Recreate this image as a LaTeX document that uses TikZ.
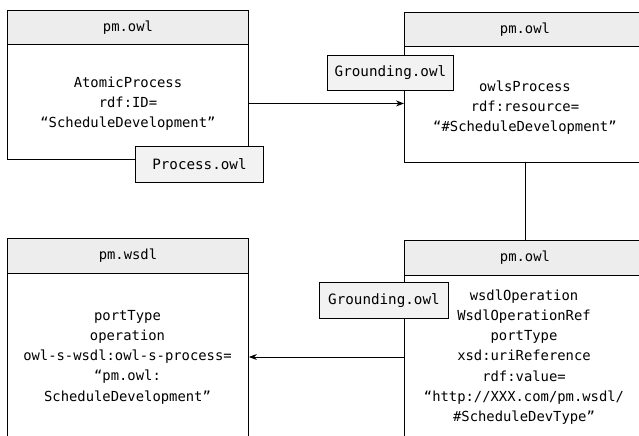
\documentclass[tikz,border=0pt]{standalone}
\usepackage{fontspec}
\setmainfont{DejaVu Sans Mono}
\usetikzlibrary{arrows.meta,calc}
\begin{document}
\begin{tikzpicture}[x=1bp,y=-1bp,
  every node/.style={font=\fontsize{13.9}{20.3}\selectfont},
  hdr/.style={draw=black,line width=0.9pt,fill=gray!14,minimum width=241bp,minimum height=34bp,inner sep=0pt,anchor=north west},
  body/.style={draw=black,line width=0.9pt,fill=white,inner sep=0pt,anchor=north west,minimum width=241bp},
  txt/.style={align=center,inner sep=0pt},
  tag/.style={draw=black,line width=0.9pt,fill=gray!10,inner sep=0pt,minimum height=36bp,anchor=north west,font=\fontsize{14.3}{18}\selectfont},
  conn/.style={line width=0.9pt},
  arr/.style={conn,-{Stealth[length=8bp,width=6bp]}}]
\useasboundingbox (0,0) rectangle (639,436);
% box 1
\node[body,minimum height=115bp] (b1) at (7,44) {};
\node[hdr] (h1) at (7,10) {pm.owl};
\node[txt] (t1) at ($(b1.center)+(0,2)$) {AtomicProcess\\rdf:ID=\\“ScheduleDevelopment”};
% box 2
\node[body,minimum height=116bp] (b2) at (404,46) {};
\node[hdr] (h2) at (404,12) {pm.owl};
\node[txt] (t2) at ($(b2.center)+(0,3)$) {owlsProcess\\rdf:resource=\\“\#ScheduleDevelopment”};
% box 3
\node[body,minimum height=180bp] (b3) at (7,273) {};
\node[hdr,minimum height=35bp] (h3) at (7,238) {pm.wsdl};
\node[txt] (t3) at (127.5,357) {portType\\operation\\owl-s-wsdl:owl-s-process=\\“pm.owl:\\ScheduleDevelopment”};
% box 4
\node[body,minimum height=180bp] (b4) at (404,275) {};
\node[hdr,minimum height=35bp] (h4) at (404,240) {pm.owl};
\node[txt] (t4) at (524,357) {wsdlOperation\\WsdlOperationRef\\portType\\xsd:uriReference\\rdf:value=\\“http://XXX.com/pm.wsdl/\\\#ScheduleDevType”};
% tags
\node[tag,minimum width=128bp] (g1) at (135,146) {Process.owl};
\node[tag,minimum width=126bp,minimum height=35bp] (g2) at (327,55) {Grounding.owl};
\node[tag,minimum width=129bp] (g3) at (319,282) {Grounding.owl};
% connectors
\coordinate (a1) at ($(b1.east)+(0,1.5)$);
\draw[arr] (a1) -- (a1 -| b2.west);
\draw[conn] (b2.south) -- (h4.north -| b2.south);
\coordinate (a2) at (b4.west |- t3.center);
\draw[arr] (a2) -- (a2 -| b3.east);
\end{tikzpicture}
\end{document}
